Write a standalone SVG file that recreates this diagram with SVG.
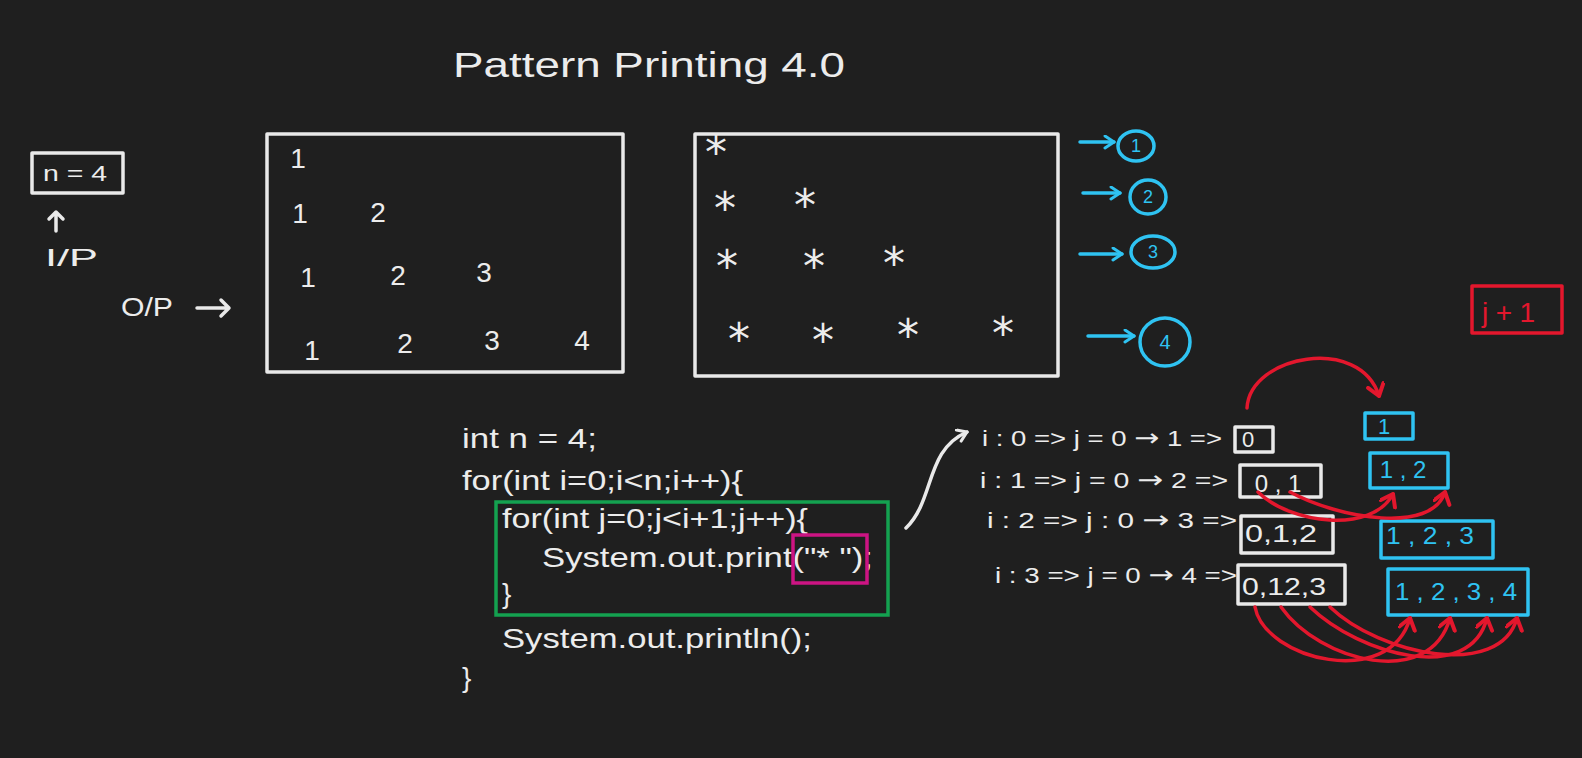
<svg xmlns="http://www.w3.org/2000/svg" width="1582" height="758" viewBox="0 0 1582 758">
<defs>
<style>
.t{fill:#ececec;font-family:"Liberation Sans",Arial,sans-serif}
.bt{fill:#2fc3f2;font-family:"Liberation Sans",Arial,sans-serif}
.rt{fill:#e3172d;font-family:"Liberation Sans",Arial,sans-serif}
.w{fill:none;stroke:#e9e9e9;stroke-width:3.5;stroke-linecap:round;stroke-linejoin:round}
.b{fill:none;stroke:#2fc3f2;stroke-width:3.5;stroke-linecap:round;stroke-linejoin:round}
.r{fill:none;stroke:#e3172d;stroke-width:3.5;stroke-linecap:round;stroke-linejoin:round}
.g{fill:none;stroke:#14a150;stroke-width:3.5}
.p{fill:none;stroke:#cc1483;stroke-width:3.5}
.star{fill:#ececec;font-family:"DejaVu Sans",sans-serif;font-size:44px;text-anchor:middle}
.ar{font-family:"DejaVu Sans",sans-serif;font-size:24px}
</style>
<marker id="mw" markerWidth="16" markerHeight="16" refX="11" refY="7" orient="auto" markerUnits="userSpaceOnUse"><path d="M2,1 L11,7 L2,13" fill="none" stroke="#e9e9e9" stroke-width="3" stroke-linecap="round" stroke-linejoin="round"/></marker>
<marker id="mb" markerWidth="16" markerHeight="16" refX="11" refY="7" orient="auto" markerUnits="userSpaceOnUse"><path d="M2,1 L11,7 L2,13" fill="none" stroke="#2fc3f2" stroke-width="3" stroke-linecap="round" stroke-linejoin="round"/></marker>
<marker id="mr" markerWidth="20" markerHeight="20" refX="13" refY="9" orient="auto" markerUnits="userSpaceOnUse"><path d="M2,1 L13,9 L2,17" fill="none" stroke="#e3172d" stroke-width="4" stroke-linecap="round" stroke-linejoin="round"/></marker>
</defs>
<rect width="1582" height="758" fill="#1f1f1f"/>

<text class="t" x="453" y="77" font-size="35" textLength="392" lengthAdjust="spacingAndGlyphs">Pattern Printing 4.0</text>

<g id="input">
<rect class="w" x="32" y="153" width="91" height="40"/>
<text class="t" x="43" y="181" font-size="22" textLength="64" lengthAdjust="spacingAndGlyphs">n = 4</text>
<path class="w" d="M56 231 L56 212 M49 219 L56 212 L63 219"/>
<text class="t" x="45" y="266" font-size="24" textLength="53" lengthAdjust="spacingAndGlyphs">I/P</text>
</g>

<g id="output-label">
<text class="t" x="121" y="316" font-size="26" textLength="52" lengthAdjust="spacingAndGlyphs">O/P</text>
<path class="w" d="M197 308 L229 308 M221 300 L229 308 L221 316"/>
</g>

<g id="number-pattern">
<rect class="w" x="267" y="134" width="356" height="238"/>
<g class="t" font-size="28" text-anchor="middle">
<text x="298" y="168">1</text>
<text x="300" y="223">1</text><text x="378" y="222">2</text>
<text x="308" y="287">1</text><text x="398" y="285">2</text><text x="484" y="282">3</text>
<text x="312" y="360">1</text><text x="405" y="353">2</text><text x="492" y="350">3</text><text x="582" y="350">4</text>
</g>
</g>

<g id="star-pattern">
<rect class="w" x="695" y="134" width="363" height="242"/>
<text class="star" x="716" y="168">*</text>
<text class="star" x="725" y="224">*</text><text class="star" x="805" y="221">*</text>
<text class="star" x="727" y="282">*</text><text class="star" x="814" y="282">*</text><text class="star" x="894" y="279">*</text>
<text class="star" x="739" y="355">*</text><text class="star" x="823" y="356">*</text><text class="star" x="908" y="351">*</text><text class="star" x="1003" y="349">*</text>
</g>

<g id="row-markers">
<path class="b" d="M1080 142 L1114 142" marker-end="url(#mb)"/>
<ellipse class="b" cx="1136" cy="146" rx="18" ry="15"/>
<text class="bt" x="1136" y="152" font-size="18" text-anchor="middle">1</text>
<path class="b" d="M1083 193 L1120 193" marker-end="url(#mb)"/>
<ellipse class="b" cx="1148" cy="197" rx="18" ry="17"/>
<text class="bt" x="1148" y="203" font-size="18" text-anchor="middle">2</text>
<path class="b" d="M1080 254 L1122 254" marker-end="url(#mb)"/>
<ellipse class="b" cx="1153" cy="252" rx="22" ry="16" stroke-width="5"/>
<text class="bt" x="1153" y="258" font-size="18" text-anchor="middle">3</text>
<path class="b" d="M1088 336 L1134 336" marker-end="url(#mb)"/>
<ellipse class="b" cx="1165" cy="342" rx="25" ry="24"/>
<text class="bt" x="1165" y="349" font-size="20" text-anchor="middle">4</text>
</g>

<g id="code">
<text class="t" x="462" y="448" font-size="28" textLength="135" lengthAdjust="spacingAndGlyphs">int n = 4;</text>
<text class="t" x="462" y="490" font-size="28" textLength="281" lengthAdjust="spacingAndGlyphs">for(int i=0;i&lt;n;i++){</text>
<text class="t" x="502" y="528" font-size="28" textLength="306" lengthAdjust="spacingAndGlyphs">for(int j=0;j&lt;i+1;j++){</text>
<text class="t" x="542" y="567" font-size="28" textLength="331" lengthAdjust="spacingAndGlyphs">System.out.print("* ");</text>
<text class="t" x="502" y="603" font-size="28">}</text>
<text class="t" x="502" y="648" font-size="28" textLength="310" lengthAdjust="spacingAndGlyphs">System.out.println();</text>
<text class="t" x="462" y="687" font-size="28">}</text>
</g>
<rect id="inner-loop" class="g" x="496" y="502" width="392" height="113"/>
<rect id="print-arg" class="p" x="793" y="535" width="74" height="48"/>

<g id="trace">
<text class="t" x="982" y="446" font-size="22" textLength="240" lengthAdjust="spacingAndGlyphs">i : 0 =&gt; j = 0 <tspan class="ar">→</tspan> 1 =&gt;</text>
<text class="t" x="980" y="488" font-size="22" textLength="248" lengthAdjust="spacingAndGlyphs">i : 1 =&gt; j = 0 <tspan class="ar">→</tspan> 2 =&gt;</text>
<text class="t" x="987" y="528" font-size="22" textLength="250" lengthAdjust="spacingAndGlyphs">i : 2 =&gt; j : 0 <tspan class="ar">→</tspan> 3 =&gt;</text>
<text class="t" x="995" y="583" font-size="22" textLength="242" lengthAdjust="spacingAndGlyphs">i : 3 =&gt; j = 0 <tspan class="ar">→</tspan> 4 =&gt;</text>
</g>

<g id="j-values">
<rect class="w" x="1235" y="427" width="38" height="25"/>
<text class="t" x="1248" y="447" font-size="22" text-anchor="middle">0</text>
<rect class="w" x="1240" y="465" width="81" height="32"/>
<text class="t" x="1278" y="492" font-size="24" text-anchor="middle">0 , 1</text>
<rect class="w" x="1241" y="516" width="92" height="37"/>
<text class="t" x="1245" y="542" font-size="24" textLength="72" lengthAdjust="spacingAndGlyphs">0,1,2</text>
<rect class="w" x="1238" y="565" width="107" height="39"/>
<text class="t" x="1242" y="595" font-size="24" textLength="84" lengthAdjust="spacingAndGlyphs">0,12,3</text>
</g>

<g id="j-plus-1-values">
<rect class="b" x="1365" y="413" width="48" height="26"/>
<text class="bt" x="1384" y="434" font-size="22" text-anchor="middle">1</text>
<rect class="b" x="1370" y="453" width="78" height="35"/>
<text class="bt" x="1403" y="478" font-size="24" text-anchor="middle">1 , 2</text>
<rect class="b" x="1381" y="521" width="112" height="37"/>
<text class="bt" x="1386" y="544" font-size="24" textLength="88" lengthAdjust="spacingAndGlyphs">1 , 2 , 3</text>
<rect class="b" x="1388" y="569" width="140" height="46"/>
<text class="bt" x="1395" y="600" font-size="24" textLength="122" lengthAdjust="spacingAndGlyphs">1 , 2 , 3 , 4</text>
</g>

<g id="j-plus-1-label">
<rect class="r" x="1472" y="286" width="90" height="47"/>
<text class="rt" x="1482" y="322" font-size="28" textLength="53" lengthAdjust="spacing">j+1</text>
</g>

<g id="connectors">
<path class="w" d="M906 528 C 935 500, 925 450, 967 432" marker-end="url(#mw)"/>
<path class="r" d="M1247 408 C 1250 355, 1360 335, 1379 396" marker-end="url(#mr)"/>
<path class="r" d="M1258 492 C 1290 524, 1372 534, 1393 494" marker-end="url(#mr)"/>
<path class="r" d="M1290 492 C 1340 519, 1432 534, 1445 492" marker-end="url(#mr)"/>
<path class="r" d="M1255 607 C 1265 660, 1390 690, 1410 618" marker-end="url(#mr)"/>
<path class="r" d="M1281 607 C 1320 662, 1430 690, 1450 618" marker-end="url(#mr)"/>
<path class="r" d="M1310 607 C 1360 655, 1470 685, 1487 618" marker-end="url(#mr)"/>
<path class="r" d="M1330 607 C 1380 655, 1500 680, 1517 618" marker-end="url(#mr)"/>
</g>
</svg>
